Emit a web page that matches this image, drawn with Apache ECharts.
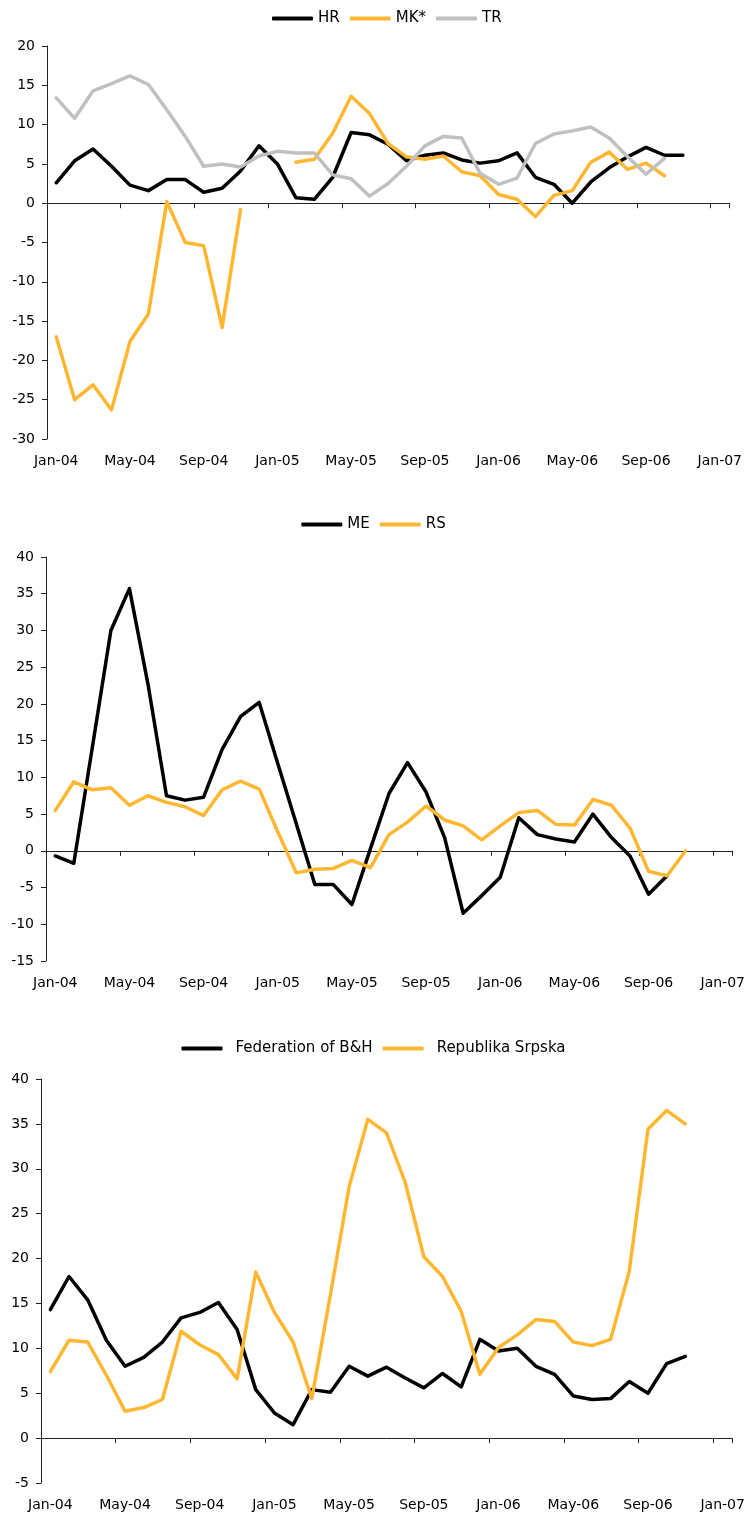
<!DOCTYPE html>
<html>
<head>
<meta charset="utf-8">
<script src="https://cdn.jsdelivr.net/npm/echarts@6/dist/echarts.min.js"></script>
<style>
html,body{margin:0;padding:0;background:#fff;}
#main{width:747px;height:1517px;}
</style>
</head>
<body>
<div id="main"></div>
<script>
// month categories, Jan-04 .. Jan-07
var months = ["Jan-04","Feb-04","Mar-04","Apr-04","May-04","Jun-04","Jul-04","Aug-04","Sep-04","Oct-04","Nov-04","Dec-04",
	"Jan-05","Feb-05","Mar-05","Apr-05","May-05","Jun-05","Jul-05","Aug-05","Sep-05","Oct-05","Nov-05","Dec-05",
	"Jan-06","Feb-06","Mar-06","Apr-06","May-06","Jun-06","Jul-06","Aug-06","Sep-06","Oct-06","Nov-06","Dec-06",
	"Jan-07"];

// panel 1
var hrData = [2.6,5.4,6.9,4.7,2.3,1.6,3.0,3.0,1.4,1.9,4.1,7.3,
	5.0,0.7,0.5,3.3,9.0,8.7,7.5,5.4,6.1,6.4,5.5,5.1,
	5.4,6.4,3.3,2.4,0.0,2.7,4.5,5.9,7.1,6.1,6.1];
var mkData = [-17.0,-25.0,-23.1,-26.3,-17.6,-14.1,0.2,-5.0,-5.4,-15.8,-0.8,null,
	null,5.2,5.6,8.9,13.6,11.4,7.6,5.9,5.6,6.0,4.0,3.5,
	1.1,0.5,-1.7,1.0,1.6,5.2,6.5,4.3,5.1,3.5];
var trData = [13.4,10.8,14.3,15.2,16.2,15.1,11.9,8.5,4.7,5.0,4.6,6.0,
	6.6,6.4,6.4,3.6,3.1,0.9,2.5,4.7,7.3,8.5,8.3,3.8,
	2.4,3.2,7.6,8.8,9.2,9.7,8.3,5.9,3.7,5.7];

// panel 2
var meData = [-0.7,-1.7,14.1,30.0,35.7,22.7,7.5,6.9,7.3,13.8,18.3,20.2,
	11.9,3.7,-4.6,-4.6,-7.3,0.3,7.8,12.0,8.0,1.8,-8.5,-6.1,
	-3.6,4.5,2.2,1.6,1.2,5.0,1.8,-0.7,-5.9,-3.4];
var rsData = [5.5,9.4,8.3,8.6,6.2,7.5,6.6,6.0,4.8,8.3,9.5,8.4,
	2.6,-3.0,-2.5,-2.4,-1.3,-2.3,2.2,3.9,6.1,4.2,3.4,1.5,
	3.4,5.2,5.5,3.6,3.5,7.0,6.2,3.1,-2.8,-3.4,0.0];

// panel 3
var fedData = [14.3,18.0,15.4,10.9,8.0,9.0,10.7,13.4,14.0,15.1,12.1,5.4,
	2.8,1.5,5.4,5.1,8.0,6.9,7.9,6.7,5.6,7.2,5.7,11.0,
	9.7,10.0,8.0,7.1,4.7,4.3,4.4,6.3,5.0,8.3,9.1];
var rsbData = [7.4,10.9,10.7,7.0,3.0,3.4,4.3,11.9,10.4,9.3,6.6,18.5,
	14.0,10.7,4.4,16.0,28.0,35.5,34.0,28.5,20.2,18.0,14.1,7.1,
	10.1,11.5,13.2,13.0,10.7,10.3,11.0,18.6,34.4,36.5,35.0];

var black = "#000000", orange = "#FFB732", grey = "#C0C0C0";
var fontName = "DejaVu Sans";

var grids = [
	{left:47, top:46, width:682, height:393},
	{left:46, top:557, width:686, height:404},
	{left:41, top:1079, width:691, height:404}
];
var yRange = [[-30,20],[-15,40],[-5,40]];

var xAxes = [], yAxes = [];
for(var g = 0; g < grids.length; g++){
	grids[g].outerBoundsMode = "none";
	// axis line + ticks on the zero line
	xAxes.push({
		type:"category", gridIndex:g, data:months, boundaryGap:true,
		axisLine:{show:true, onZero:true, lineStyle:{color:"#222", width:1}},
		axisTick:{show:true, interval:3, length:5, lineStyle:{color:"#222"}},
		axisLabel:{show:false}, splitLine:{show:false}
	});
	// labels at the bottom of the grid
	xAxes.push({
		type:"category", gridIndex:g, data:months, boundaryGap:true, position:"bottom",
		axisLine:{show:false, onZero:false}, axisTick:{show:false}, splitLine:{show:false},
		axisLabel:{show:true, interval:3, margin:15, color:"#000", fontSize:14, fontFamily:fontName}
	});
	yAxes.push({
		type:"value", gridIndex:g, min:yRange[g][0], max:yRange[g][1], interval:5,
		axisLine:{show:true, lineStyle:{color:"#222", width:1}},
		axisTick:{show:true, length:5, lineStyle:{color:"#222"}},
		axisLabel:{margin:12, color:"#000", fontSize:14, fontFamily:fontName},
		splitLine:{show:false}
	});
}

function lineSeries(name, data, color, g){
	return {
		name:name, type:"line", data:data, xAxisIndex:g*2, yAxisIndex:g,
		symbol:"none", showSymbol:false, connectNulls:false,
		itemStyle:{color:color},
		lineStyle:{color:color, width:3.5, cap:"round", join:"round"},
		emphasis:{disabled:true}
	};
}

function legendFor(names, left, top, gap){
	return {
		data:names, left:left, top:top, itemGap:10,
		icon:"roundRect", itemWidth:41, itemHeight:4,
		textStyle:{color:"#000", fontSize:15, fontFamily:fontName, padding:[0,0,0,gap]}
	};
}

var myChart = echarts.init(document.getElementById("main"));
var option = {
	animation:false,
	grid:grids,
	xAxis:xAxes,
	yAxis:yAxes,
	legend:[
		legendFor(["HR","MK*","TR"], 267, 6, 0),
		legendFor(["ME","RS"], "center", 512, 0),
		legendFor(["Federation of B&H","Republika Srpska"], "center", 1036, 8)
	],
	series:[
		lineSeries("HR", hrData, black, 0),
		lineSeries("MK*", mkData, orange, 0),
		lineSeries("TR", trData, grey, 0),
		lineSeries("ME", meData, black, 1),
		lineSeries("RS", rsData, orange, 1),
		lineSeries("Federation of B&H", fedData, black, 2),
		lineSeries("Republika Srpska", rsbData, orange, 2)
	]
};
myChart.setOption(option);
</script>
</body>
</html>
